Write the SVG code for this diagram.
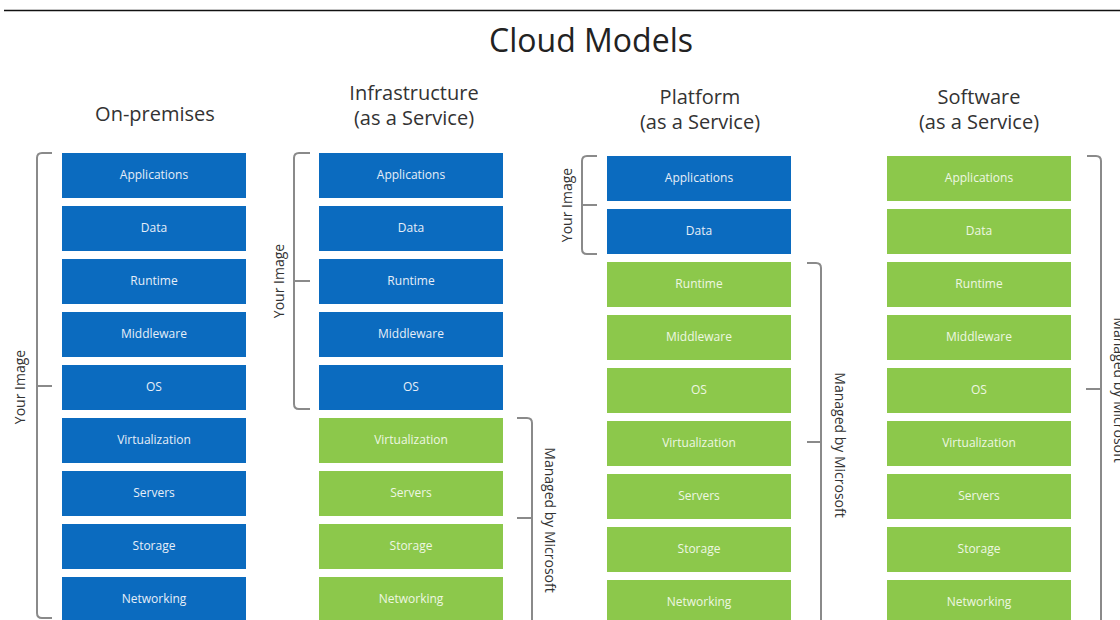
<svg xmlns="http://www.w3.org/2000/svg" width="1120" height="620" viewBox="0 0 1120 620">
<style>
.b{fill:#0b6bbf}
.g{fill:#8cc84b}
.bt{font-family:"Open Sans","Noto Sans",sans-serif;font-size:12px;fill:#e6eef8;text-anchor:middle}
.gt{font-family:"Open Sans","Noto Sans",sans-serif;font-size:12px;fill:#eef7e2;text-anchor:middle}
.h{font-family:"Open Sans","Noto Sans",sans-serif;font-size:20px;fill:#333;text-anchor:middle}
.lbl{font-family:"Open Sans","Noto Sans",sans-serif;font-size:14px;fill:#333;text-anchor:middle}
.br{fill:none;stroke:#8a8a8a;stroke-width:2;stroke-linejoin:round}
</style>
<rect width="1120" height="620" fill="#fff"/>
<line x1="4" y1="10.5" x2="1120" y2="10.5" stroke="#111" stroke-width="1.5"/>
<text x="591" y="52" font-family="Open Sans, Noto Sans, sans-serif" font-size="32" fill="#222" text-anchor="middle">Cloud Models</text>

<g id="col-onprem">
<text class="h" x="155" y="121">On-premises</text>
<rect class="b" x="62" y="153" width="184" height="45"/><text class="bt" x="154" y="179">Applications</text>
<rect class="b" x="62" y="206" width="184" height="45"/><text class="bt" x="154" y="232">Data</text>
<rect class="b" x="62" y="259" width="184" height="45"/><text class="bt" x="154" y="285">Runtime</text>
<rect class="b" x="62" y="312" width="184" height="45"/><text class="bt" x="154" y="338">Middleware</text>
<rect class="b" x="62" y="365" width="184" height="45"/><text class="bt" x="154" y="391">OS</text>
<rect class="b" x="62" y="418" width="184" height="45"/><text class="bt" x="154" y="444">Virtualization</text>
<rect class="b" x="62" y="471" width="184" height="45"/><text class="bt" x="154" y="497">Servers</text>
<rect class="b" x="62" y="524" width="184" height="45"/><text class="bt" x="154" y="550">Storage</text>
<rect class="b" x="62" y="577" width="184" height="45"/><text class="bt" x="154" y="603">Networking</text>
</g>

<g id="col-iaas">
<text class="h" x="414" y="100">Infrastructure</text>
<text class="h" x="414" y="125">(as a Service)</text>
<rect class="b" x="319" y="153" width="184" height="45"/><text class="bt" x="411" y="179">Applications</text>
<rect class="b" x="319" y="206" width="184" height="45"/><text class="bt" x="411" y="232">Data</text>
<rect class="b" x="319" y="259" width="184" height="45"/><text class="bt" x="411" y="285">Runtime</text>
<rect class="b" x="319" y="312" width="184" height="45"/><text class="bt" x="411" y="338">Middleware</text>
<rect class="b" x="319" y="365" width="184" height="45"/><text class="bt" x="411" y="391">OS</text>
<rect class="g" x="319" y="418" width="184" height="45"/><text class="gt" x="411" y="444">Virtualization</text>
<rect class="g" x="319" y="471" width="184" height="45"/><text class="gt" x="411" y="497">Servers</text>
<rect class="g" x="319" y="524" width="184" height="45"/><text class="gt" x="411" y="550">Storage</text>
<rect class="g" x="319" y="577" width="184" height="45"/><text class="gt" x="411" y="603">Networking</text>
</g>

<g id="col-paas">
<text class="h" x="700" y="104">Platform</text>
<text class="h" x="700" y="129">(as a Service)</text>
<rect class="b" x="607" y="156" width="184" height="45"/><text class="bt" x="699" y="182">Applications</text>
<rect class="b" x="607" y="209" width="184" height="45"/><text class="bt" x="699" y="235">Data</text>
<rect class="g" x="607" y="262" width="184" height="45"/><text class="gt" x="699" y="288">Runtime</text>
<rect class="g" x="607" y="315" width="184" height="45"/><text class="gt" x="699" y="341">Middleware</text>
<rect class="g" x="607" y="368" width="184" height="45"/><text class="gt" x="699" y="394">OS</text>
<rect class="g" x="607" y="421" width="184" height="45"/><text class="gt" x="699" y="447">Virtualization</text>
<rect class="g" x="607" y="474" width="184" height="45"/><text class="gt" x="699" y="500">Servers</text>
<rect class="g" x="607" y="527" width="184" height="45"/><text class="gt" x="699" y="553">Storage</text>
<rect class="g" x="607" y="580" width="184" height="45"/><text class="gt" x="699" y="606">Networking</text>
</g>

<g id="col-saas">
<text class="h" x="979" y="104">Software</text>
<text class="h" x="979" y="129">(as a Service)</text>
<rect class="g" x="887" y="156" width="184" height="45"/><text class="gt" x="979" y="182">Applications</text>
<rect class="g" x="887" y="209" width="184" height="45"/><text class="gt" x="979" y="235">Data</text>
<rect class="g" x="887" y="262" width="184" height="45"/><text class="gt" x="979" y="288">Runtime</text>
<rect class="g" x="887" y="315" width="184" height="45"/><text class="gt" x="979" y="341">Middleware</text>
<rect class="g" x="887" y="368" width="184" height="45"/><text class="gt" x="979" y="394">OS</text>
<rect class="g" x="887" y="421" width="184" height="45"/><text class="gt" x="979" y="447">Virtualization</text>
<rect class="g" x="887" y="474" width="184" height="45"/><text class="gt" x="979" y="500">Servers</text>
<rect class="g" x="887" y="527" width="184" height="45"/><text class="gt" x="979" y="553">Storage</text>
<rect class="g" x="887" y="580" width="184" height="45"/><text class="gt" x="979" y="606">Networking</text>
</g>

<g id="brackets">
<path class="br" d="M52,153 H42 Q37,153 37,158 V613 Q37,618 42,618 H52 M37,386 H52"/>
<text class="lbl" transform="translate(25,387) rotate(-90)">Your Image</text>
<path class="br" d="M310,153 H299 Q294,153 294,158 V404 Q294,409 299,409 H310 M294,281 H310"/>
<text class="lbl" transform="translate(284,281) rotate(-90)">Your Image</text>
<path class="br" d="M517,418 H527 Q532,418 532,423 V622 M517,518 H532"/>
<text class="lbl" transform="translate(545,520) rotate(90)">Managed by Microsoft</text>
<path class="br" d="M597,156 H587 Q582,156 582,161 V249 Q582,254 587,254 H597 M582,205 H597"/>
<text class="lbl" transform="translate(572,205) rotate(-90)">Your Image</text>
<path class="br" d="M807,263 H816 Q821,263 821,268 V622 M807,442 H821"/>
<text class="lbl" transform="translate(835,445) rotate(90)">Managed by Microsoft</text>
<path class="br" d="M1087,156 H1096 Q1101,156 1101,161 V622 M1086,389 H1101"/>
<text class="lbl" transform="translate(1114,390) rotate(90)">Managed by Microsoft</text>
</g>
</svg>
